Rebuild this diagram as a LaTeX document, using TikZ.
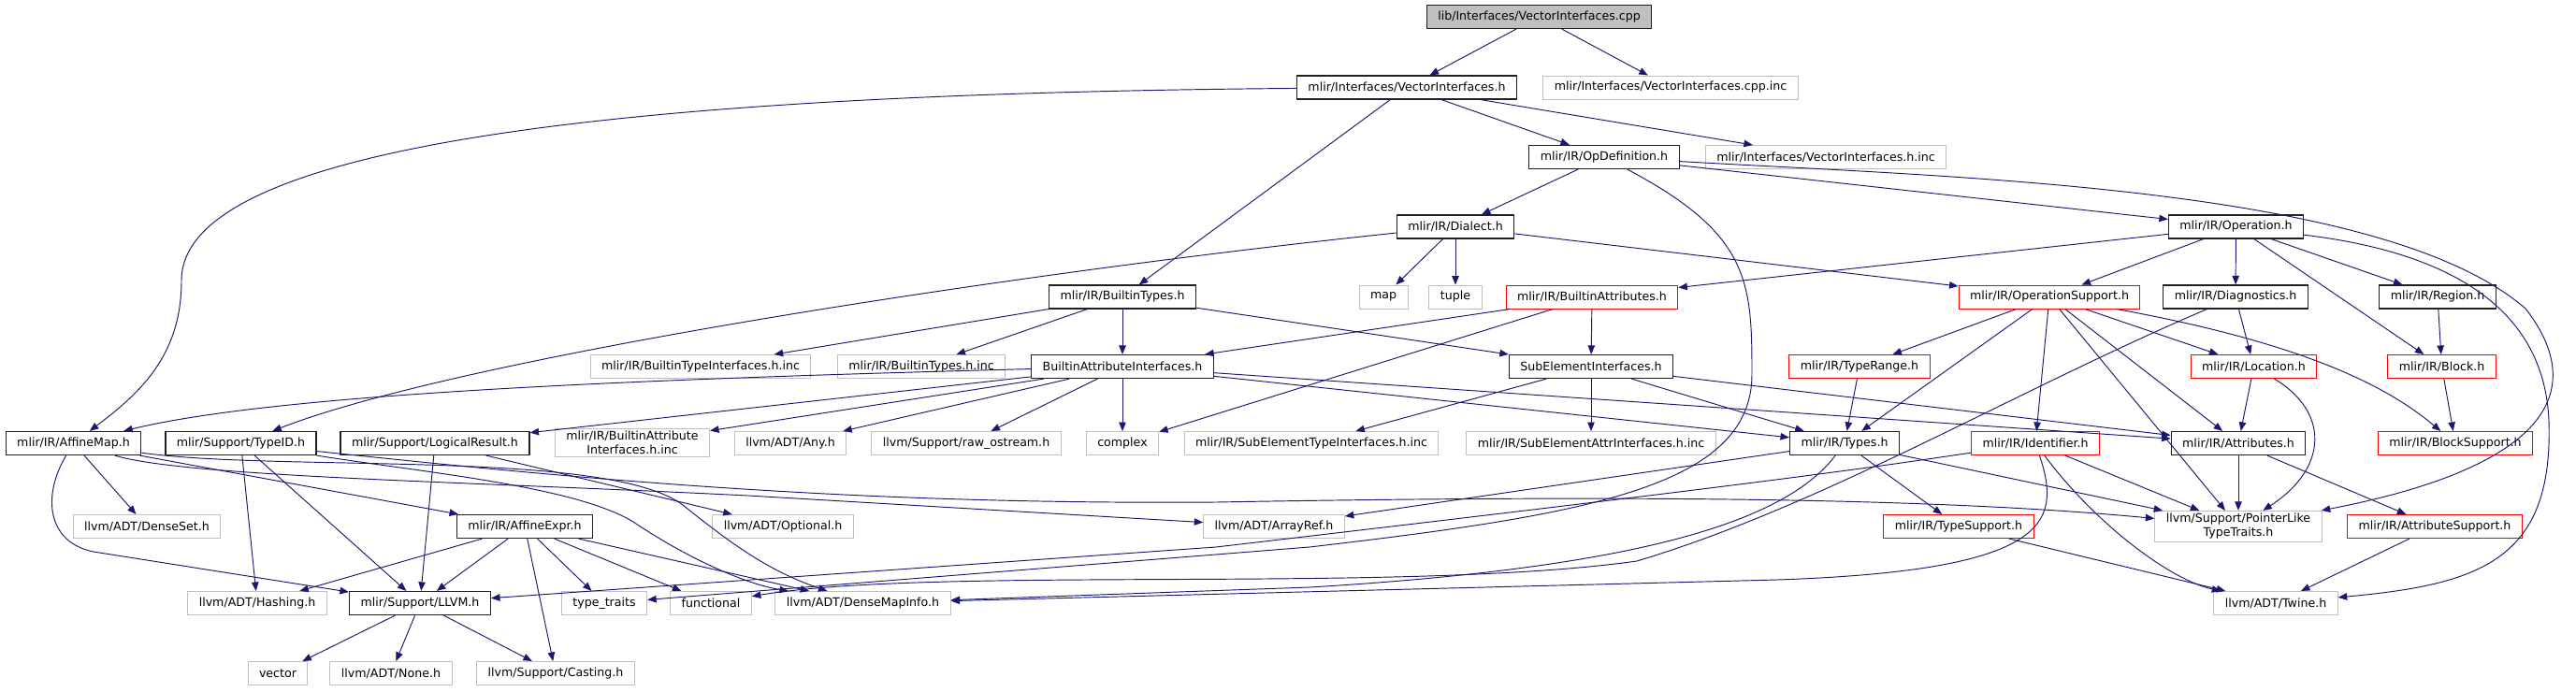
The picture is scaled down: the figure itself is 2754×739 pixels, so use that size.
\documentclass[tikz,border=0pt]{standalone}
\usepackage{fontspec}
\setmainfont{DejaVu Sans}
\usetikzlibrary{arrows.meta}
\definecolor{edgeblue}{HTML}{191970}
\definecolor{boxgray}{HTML}{BFBFBF}
\definecolor{boxdark}{HTML}{202020}
\definecolor{boxred}{HTML}{FF0000}

\begin{document}
\begin{tikzpicture}[x=1pt,y=-1pt,
    file/.style={draw=boxdark,line width=1.2pt,fill=white,font=\fontsize{12.6}{15}\selectfont,
      inner xsep=12pt,inner ysep=3pt,minimum height=25pt,align=center},
    hdr/.style={file},
    ext/.style={file,draw=boxgray,line width=1pt},
    trunc/.style={file,draw=boxred,line width=1pt},
    root/.style={file,fill=boxgray},
    dep/.style={draw=edgeblue,line width=0.95pt,-{Triangle[length=9.5pt,width=7.5pt]}}]
      \useasboundingbox (0,0) rectangle (2754,739);
      % files, one rank per block
      \node[root] (cpp) at (1645.5,18) {lib/Interfaces/VectorInterfaces.cpp};
      \node[hdr] (vih) at (1504,93.5) {mlir/Interfaces/VectorInterfaces.h};
      \node[ext] (cppinc) at (1786,93.5) {mlir/Interfaces/VectorInterfaces.cpp.inc};
      \node[hdr] (opdef) at (1715,168) {mlir/IR/OpDefinition.h};
      \node[ext] (vihinc) at (1952,168) {mlir/Interfaces/VectorInterfaces.h.inc};
      \node[hdr] (dialect) at (1556,242.5) {mlir/IR/Dialect.h};
      \node[hdr] (operation) at (2390.5,242.5) {mlir/IR/Operation.h};

      \node[hdr] (btypes) at (1200,317.5) {mlir/IR/BuiltinTypes.h};
      \node[ext] (map) at (1479,317.5) {map};
      \node[ext] (tuple) at (1556,317.5) {tuple};
      \node[trunc] (battrs) at (1702,317.5) {mlir/IR/BuiltinAttributes.h};
      \node[trunc] (opsupp) at (2191,317.5) {mlir/IR/OperationSupport.h};
      \node[hdr] (diag) at (2390,317.5) {mlir/IR/Diagnostics.h};
      \node[hdr] (region) at (2606,317.5) {mlir/IR/Region.h};

      \node[ext] (btiinc) at (749,392) {mlir/IR/BuiltinTypeInterfaces.h.inc};
      \node[ext] (btinc) at (985,392) {mlir/IR/BuiltinTypes.h.inc};
      \node[hdr] (baif) at (1200,392) {BuiltinAttributeInterfaces.h};
      \node[hdr] (subel) at (1701,392) {SubElementInterfaces.h};
      \node[trunc] (trange) at (1988,392) {mlir/IR/TypeRange.h};
      \node[trunc] (loc) at (2409.5,392) {mlir/IR/Location.h};
      \node[trunc] (block) at (2610.5,392) {mlir/IR/Block.h};

      \node[hdr] (amap) at (78.5,474) {mlir/IR/AffineMap.h};
      \node[hdr] (typeid) at (257.5,474) {mlir/Support/TypeID.h};
      \node[hdr] (lres) at (465,474) {mlir/Support/LogicalResult.h};
      \node[ext] (baifinc) at (676,473.5) {mlir/IR/BuiltinAttribute\\Interfaces.h.inc};
      \node[ext] (any) at (845,474) {llvm/ADT/Any.h};
      \node[ext] (rawos) at (1033,474) {llvm/Support/raw\_ostream.h};
      \node[ext] (complex) at (1200,474) {complex};
      \node[ext] (setinc) at (1402,474) {mlir/IR/SubElementTypeInterfaces.h.inc};
      \node[ext] (saiinc) at (1701,474) {mlir/IR/SubElementAttrInterfaces.h.inc};
      \node[hdr] (types) at (1972,474) {mlir/IR/Types.h};
      \node[trunc] (ident) at (2176,474) {mlir/IR/Identifier.h};
      \node[hdr] (attrs) at (2393,474) {mlir/IR/Attributes.h};
      \node[trunc] (bsupp) at (2625,474) {mlir/IR/BlockSupport.h};

      \node[ext] (dset) at (157,563) {llvm/ADT/DenseSet.h};
      \node[hdr] (aexpr) at (561,563) {mlir/IR/AffineExpr.h};
      \node[ext] (opt) at (837,563) {llvm/ADT/Optional.h};
      \node[ext] (aref) at (1362,563) {llvm/ADT/ArrayRef.h};
      \node[trunc] (tsupp) at (2094,563) {mlir/IR/TypeSupport.h};
      \node[ext] (plike) at (2393,563) {llvm/Support/PointerLike\\TypeTraits.h};
      \node[trunc] (asupp) at (2603,563) {mlir/IR/AttributeSupport.h};

      \node[ext] (hashing) at (275,645) {llvm/ADT/Hashing.h};
      \node[hdr] (llvmh) at (449,645) {mlir/Support/LLVM.h};
      \node[ext] (ttraits) at (646,645) {type\_traits};
      \node[ext] (func) at (760,645) {functional};
      \node[ext] (dmi) at (922.5,645) {llvm/ADT/DenseMapInfo.h};
      \node[ext] (twine) at (2433,645) {llvm/ADT/Twine.h};

      \node[ext] (vector) at (297,720) {vector};
      \node[ext] (none) at (418,720) {llvm/ADT/None.h};
      \node[ext] (casting) at (594,720) {llvm/Support/Casting.h};

      % includes
      \draw[dep] (cpp) -- (vih);
      \draw[dep] (cpp) -- (cppinc);
      \draw[dep] (vih) .. controls (700,100) and (194,150) .. (194,300) .. controls (194,380) and (150,420) .. (amap);
      \draw[dep] (vih) -- (btypes);
      \draw[dep] (vih) -- (opdef);
      \draw[dep] (vih) -- (vihinc);
      \draw[dep] (opdef) -- (dialect);
      \draw[dep] (opdef) -- (operation);
      \draw[dep] (opdef) .. controls (1870,250) and (1873,300) .. (1873,400) .. controls (1873,520) and (1700,550) .. (1400,585) -- (ttraits);
      \draw[dep] (opdef) .. controls (2100,190) and (2550,200) .. (2700,330) .. controls (2770,420) and (2720,500) .. (plike);
      \draw[dep] (dialect) -- (map);
      \draw[dep] (dialect) -- (tuple);
      \draw[dep] (dialect) -- (opsupp);
      \draw[dep] (dialect) .. controls (1100,290) and (500,380) .. (typeid);
      \draw[dep] (operation) -- (battrs);
      \draw[dep] (operation) -- (opsupp);
      \draw[dep] (operation) -- (diag);
      \draw[dep] (operation) -- (region);
      \draw[dep] (operation) -- (block);
      \draw[dep] (operation) .. controls (2620,270) and (2720,330) .. (2725,450) .. controls (2730,600) and (2650,625) .. (twine);
      \draw[dep] (btypes) -- (btiinc);
      \draw[dep] (btypes) -- (btinc);
      \draw[dep] (btypes) -- (baif);
      \draw[dep] (btypes) -- (subel);
      \draw[dep] (battrs) -- (baif);
      \draw[dep] (battrs) -- (complex);
      \draw[dep] (battrs) -- (subel);
      \draw[dep] (opsupp) -- (trange);
      \draw[dep] (opsupp) -- (types);
      \draw[dep] (opsupp) -- (ident);
      \draw[dep] (opsupp) -- (plike);
      \draw[dep] (opsupp) -- (attrs);
      \draw[dep] (opsupp) -- (loc);
      \draw[dep] (opsupp) .. controls (2480,370) and (2560,420) .. (bsupp);
      \draw[dep] (diag) -- (loc);
      \draw[dep] (diag) .. controls (2150,420) and (1950,540) .. (1750,600) .. controls (1500,635) and (1000,605) .. (func);
      \draw[dep] (region) -- (block);
      \draw[dep] (baif) .. controls (700,405) and (300,420) .. (amap);
      \draw[dep] (baif) -- (lres);
      \draw[dep] (baif) -- (baifinc);
      \draw[dep] (baif) -- (any);
      \draw[dep] (baif) -- (rawos);
      \draw[dep] (baif) -- (complex);
      \draw[dep] (baif) -- (types);
      \draw[dep] (baif) -- (attrs);
      \draw[dep] (subel) -- (setinc);
      \draw[dep] (subel) -- (saiinc);
      \draw[dep] (subel) -- (types);
      \draw[dep] (subel) -- (attrs);
      \draw[dep] (trange) -- (types);
      \draw[dep] (loc) -- (attrs);
      \draw[dep] (loc) .. controls (2490,440) and (2490,500) .. (plike);
      \draw[dep] (block) -- (bsupp);
      \draw[dep] (amap) .. controls (45,530) and (50,580) .. (100,590) -- (llvmh);
      \draw[dep] (amap) -- (dset);
      \draw[dep] (amap) -- (aexpr);
      \draw[dep] (amap) .. controls (200,510) and (500,515) .. (800,530) -- (aref);
      \draw[dep] (amap) .. controls (300,505) and (650,480) .. (730,540) .. controls (780,580) and (820,610) .. (dmi);
      \draw[dep] (typeid) -- (hashing);
      \draw[dep] (typeid) -- (llvmh);
      \draw[dep] (typeid) .. controls (450,505) and (620,520) .. (680,560) .. controls (740,600) and (800,625) .. (dmi);
      \draw[dep] (typeid) .. controls (600,510) and (900,540) .. (1300,537) .. controls (1800,528) and (2100,535) .. (plike);
      \draw[dep] (lres) -- (llvmh);
      \draw[dep] (lres) -- (opt);
      \draw[dep] (types) -- (aref);
      \draw[dep] (types) .. controls (1900,570) and (1700,610) .. (1400,628) -- (dmi);
      \draw[dep] (types) -- (tsupp);
      \draw[dep] (types) -- (plike);
      \draw[dep] (ident) .. controls (2000,500) and (1900,515) .. (1300,585) -- (llvmh);
      \draw[dep] (ident) .. controls (2205,560) and (2190,610) .. (1900,620) -- (dmi);
      \draw[dep] (ident) .. controls (2240,560) and (2320,620) .. (twine);
      \draw[dep] (ident) -- (plike);
      \draw[dep] (attrs) -- (plike);
      \draw[dep] (attrs) -- (asupp);
      \draw[dep] (aexpr) -- (hashing);
      \draw[dep] (aexpr) -- (llvmh);
      \draw[dep] (aexpr) -- (casting);
      \draw[dep] (aexpr) -- (ttraits);
      \draw[dep] (aexpr) -- (func);
      \draw[dep] (aexpr) -- (dmi);
      \draw[dep] (tsupp) -- (twine);
      \draw[dep] (asupp) -- (twine);
      \draw[dep] (llvmh) -- (vector);
      \draw[dep] (llvmh) -- (none);
      \draw[dep] (llvmh) -- (casting);
    \end{tikzpicture}
\end{document}
